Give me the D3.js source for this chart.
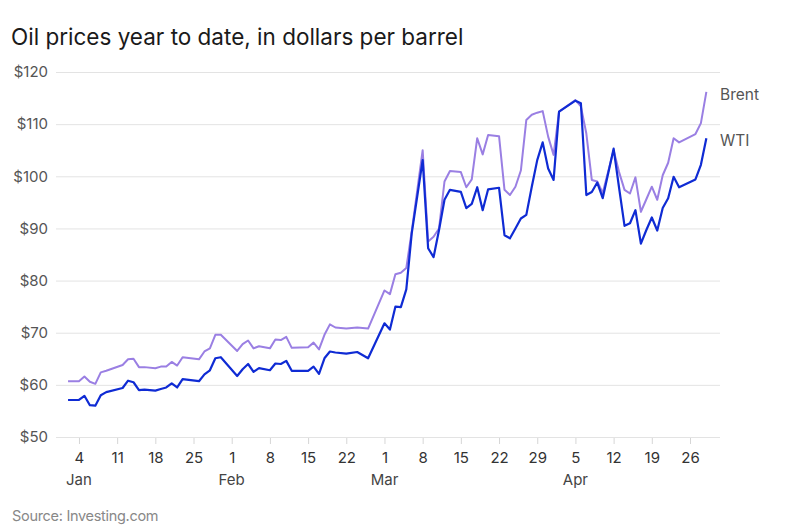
<!DOCTYPE html>
<html>
<head>
<meta charset="utf-8">
<script src="https://cdn.jsdelivr.net/npm/d3@7/dist/d3.min.js"></script>
<style>
  html, body { margin: 0; padding: 0; background: #fff; }
  svg { display: block; font-family: Inter, "Noto Sans", sans-serif; }
</style>
</head>
<body>
<svg id="chart" width="800" height="532"></svg>
<script>
// ---- data ----
const dates = [
  "2026-01-02","2026-01-04","2026-01-05","2026-01-06","2026-01-07","2026-01-08","2026-01-09",
  "2026-01-12","2026-01-13","2026-01-14","2026-01-15","2026-01-16","2026-01-18","2026-01-19",
  "2026-01-20","2026-01-21","2026-01-22","2026-01-23","2026-01-26","2026-01-27","2026-01-28",
  "2026-01-29","2026-01-30","2026-02-02","2026-02-03","2026-02-04","2026-02-05","2026-02-06",
  "2026-02-08","2026-02-09","2026-02-10","2026-02-11","2026-02-12","2026-02-15","2026-02-16",
  "2026-02-17","2026-02-18","2026-02-19","2026-02-20","2026-02-22","2026-02-24","2026-02-26",
  "2026-03-01","2026-03-02","2026-03-03","2026-03-04","2026-03-05","2026-03-06","2026-03-08",
  "2026-03-09","2026-03-10","2026-03-11","2026-03-12","2026-03-13","2026-03-15","2026-03-16",
  "2026-03-17","2026-03-18","2026-03-19","2026-03-20","2026-03-22","2026-03-23","2026-03-24",
  "2026-03-25","2026-03-26","2026-03-27","2026-03-28","2026-03-29","2026-03-30","2026-03-31",
  "2026-04-01","2026-04-02","2026-04-05","2026-04-06","2026-04-07","2026-04-08","2026-04-09",
  "2026-04-10","2026-04-12","2026-04-13","2026-04-14","2026-04-15","2026-04-16","2026-04-17",
  "2026-04-18","2026-04-19","2026-04-20","2026-04-21","2026-04-22","2026-04-23","2026-04-24",
  "2026-04-27","2026-04-28","2026-04-29"
];
const brent = [
  60.7,60.7,61.6,60.6,60.2,62.4,62.7,
  63.8,64.9,65.0,63.4,63.4,63.2,63.5,
  63.5,64.4,63.7,65.3,64.9,66.4,67.0,
  69.6,69.6,66.5,67.8,68.5,67.0,67.4,
  67.0,68.7,68.6,69.2,67.1,67.2,68.1,
  66.8,69.6,71.6,71.0,70.8,71.0,70.8,
  78.1,77.4,81.2,81.5,82.4,89.5,105.0,
  87.5,88.4,90.0,99.0,101.0,100.8,97.9,
  99.4,107.3,104.2,107.9,107.7,97.4,96.4,
  98.0,101.1,110.8,111.8,112.2,112.5,107.6,
  104.1,112.4,114.6,113.4,108.2,99.3,99.0,
  96.8,105.0,100.8,97.4,96.7,99.8,93.2,
  95.6,98.0,95.5,100.2,102.6,107.3,106.5,
  108.1,110.2,116.2
];
const wti = [
  57.1,57.1,57.9,56.1,56.0,58.0,58.6,
  59.4,60.8,60.5,59.0,59.1,58.9,59.2,
  59.5,60.3,59.5,61.1,60.7,62.0,62.8,
  65.1,65.3,61.7,63.0,64.0,62.5,63.2,
  62.8,64.1,64.0,64.6,62.7,62.7,63.5,
  62.1,65.1,66.4,66.2,66.0,66.3,65.1,
  71.8,70.6,75.0,74.9,78.3,89.1,103.1,
  86.2,84.5,89.7,95.5,97.4,97.0,93.9,
  94.7,97.9,93.5,97.5,97.8,88.7,88.1,
  90.0,91.9,92.6,98.0,103.1,106.5,101.5,
  99.3,112.4,114.5,114.0,96.4,97.0,98.8,
  95.8,105.3,97.8,90.5,91.0,93.5,87.1,
  89.7,92.1,89.6,93.9,95.8,99.9,97.9,
  99.4,102.2,107.3
];
const yTicks = [50, 60, 70, 80, 90, 100, 110, 120];
const monthStarts = ["2026-01-04","2026-02-01","2026-03-01","2026-04-05"];
const monthNames = ["Jan","Feb","Mar","Apr"];
const seriesNames = ["Brent","WTI"];
const titleText = "Oil prices year to date, in dollars per barrel";
const sourceText = "Source: Investing.com";

// ---- drawing ----
const parse = d3.timeParse("%Y-%m-%d");
const svg = d3.select("#chart");

const x = d3.scaleTime()
  .domain([new Date(2025, 11, 30, 19), new Date(2026, 4, 1, 12)])
  .range([56, 720]);
const y = d3.scaleLinear().domain([50, 120]).range([437, 72]);

// title
svg.append("text")
  .attr("x", 11).attr("y", 45)
  .attr("font-size", 22.5).attr("fill", "#1a1a1a")
  .text(titleText);

// grid + y labels
const yAxis = svg.append("g").attr("transform", "translate(56,0)")
  .call(d3.axisLeft(y).tickValues(yTicks).tickSize(-664).tickPadding(8)
        .tickFormat(d => "$" + d));
yAxis.select(".domain").remove();
yAxis.selectAll(".tick line").attr("stroke", "#e3e3e3").attr("stroke-width", 1);
yAxis.selectAll(".tick text")
  .attr("font-size", 15).attr("fill", "#555")
  .attr("font-family", "Inter, 'Noto Sans', sans-serif");

// x axis
const weekTicks = d3.timeWeek.range(parse("2026-01-04"), parse("2026-04-27"));
const xAxis = svg.append("g").attr("transform", "translate(0,438)")
  .call(d3.axisBottom(x).tickValues(weekTicks).tickSize(6).tickPadding(8)
        .tickFormat(d3.timeFormat("%-d")));
xAxis.select(".domain").remove();
xAxis.selectAll(".tick line").attr("stroke", "#d6d6d6");
xAxis.selectAll(".tick text")
  .attr("font-size", 15).attr("fill", "#333")
  .attr("font-family", "Inter, 'Noto Sans', sans-serif");

// month labels
svg.append("g").selectAll("text")
  .data(monthStarts)
  .join("text")
  .attr("x", d => x(parse(d)))
  .attr("y", 485)
  .attr("text-anchor", "middle")
  .attr("font-size", 15).attr("fill", "#444")
  .text((d, i) => monthNames[i]);

// lines
const rows = dates.map((d, i) => ({ date: parse(d), brent: brent[i], wti: wti[i] }));
const lineFor = key => d3.line().x(d => x(d.date)).y(d => y(d[key]));

svg.append("path").datum(rows)
  .attr("fill", "none").attr("stroke", "#9a7fe3").attr("stroke-width", 2)
  .attr("stroke-linejoin", "round")
  .attr("d", lineFor("brent"));
svg.append("path").datum(rows)
  .attr("fill", "none").attr("stroke", "#0f2bd4").attr("stroke-width", 2.2)
  .attr("stroke-linejoin", "round")
  .attr("d", lineFor("wti"));

// series labels
const last = rows[rows.length - 1];
svg.append("text").attr("x", 720).attr("y", y(last.brent) + 8)
  .attr("font-size", 15.5).attr("fill", "#555").text(seriesNames[0]);
svg.append("text").attr("x", 720).attr("y", y(last.wti) + 7.5)
  .attr("font-size", 15.5).attr("fill", "#555").text(seriesNames[1]);

// source
svg.append("text")
  .attr("x", 12).attr("y", 521)
  .attr("font-size", 14.5).attr("fill", "#888")
  .attr("letter-spacing", "-0.3")
  .text(sourceText);
</script>
</body>
</html>
